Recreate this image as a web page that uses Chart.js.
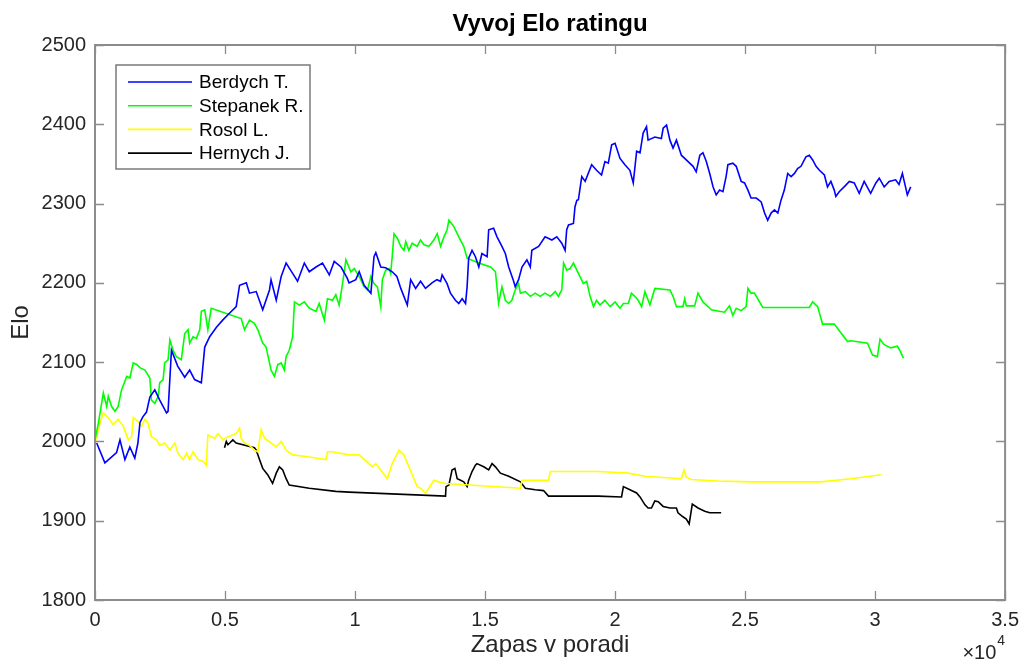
<!DOCTYPE html>
<html>
<head>
<meta charset="utf-8">
<title>Vyvoj Elo ratingu</title>
<script src="https://cdn.jsdelivr.net/npm/chart.js@4.4.1/dist/chart.umd.min.js"></script>
<style>
  html, body { margin: 0; padding: 0; background: #ffffff; }
  canvas { display: block; }
</style>
</head>
<body>
<canvas id="elo" width="1027" height="662"></canvas>
<script>
// Elo rating history of four Czech players, indexed by match number.
const berdychMatch = [
  65,380,830,960,1150,1340,1530,1650,1730,1840,1980,2110,2300,2490,2750,2810,2940,3180,3450,3640,
  3830,4090,4220,4410,4670,4910,5180,5430,5560,5820,5940,6200,6450,6710,6770,6970,7160,7350,7600,7790,
  8050,8240,8500,8750,9010,9200,9460,9700,
  9770,10030,10160,10350,10610,10730,10800,10990,11180,11430,11610,11760,12010,12140,12330,12520,12710,12960,13150,13290,
  13350,13540,13670,13860,13990,14120,14250,14310,14370,14500,14630,14760,14880,15080,15140,15330,15460,15650,15780,15910,
  16100,16160,16290,16420,16610,16740,16800,17060,17310,17570,17760,17950,18080,18140,18210,18400,18460,18530,
  18590,18720,18850,19100,19290,19480,19610,19740,19870,20000,20190,20380,20570,20700,20830,20960,21080,21210,21270,21530,
  21780,21850,21980,22110,22230,22360,22550,22810,23000,23120,23260,23380,23510,23640,23770,23890,24020,24150,24270,24340,
  24530,24660,24850,24980,25110,25230,25430,25620,25750,25870,26000,26130,26260,26380,26510,26640,26770,26900,27020,27150,
  27340,27470,27600,27730,27860,28050,28170,28300,28430,28490,28620,28810,29010,29200,29390,29580,29830,30030,30160,30350,
  30540,30790,30920,31050,31170,31240,31370
];
const berdychElo = [
  1998,1973,1986,2002,1977,1993,1979,1998,2024,2031,2037,2056,2065,2052,2036,2038,2115,2095,2081,2090,
  2078,2074,2119,2132,2144,2153,2162,2170,2197,2200,2187,2189,2166,2191,2204,2178,2208,2225,2212,2202,
  2225,2214,2220,2225,2210,2227,2220,2206,
  2200,2204,2214,2197,2187,2233,2238,2220,2219,2214,2208,2193,2172,2204,2193,2202,2193,2200,2204,2202,
  2210,2199,2187,2178,2174,2180,2174,2195,2231,2241,2233,2220,2237,2233,2267,2269,2258,2246,2237,2220,
  2202,2195,2204,2220,2229,2220,2241,2246,2258,2254,2258,2250,2241,2267,2273,2275,2296,2304,
  2305,2334,2328,2349,2342,2336,2353,2351,2374,2376,2357,2349,2342,2326,2366,2364,2389,2397,2380,2384,
  2382,2395,2399,2380,2370,2380,2361,2353,2347,2340,2361,2364,2353,2338,2321,2311,2317,2315,2334,2349,
  2351,2347,2328,2326,2317,2307,2307,2302,2288,2279,2288,2292,2288,2304,2317,2338,2334,2338,2344,2347,
  2359,2361,2355,2347,2342,2336,2321,2328,2317,2309,2315,2321,2328,2326,2313,2328,2313,2326,2332,2321,
  2328,2330,2324,2338,2321,2311,2321
];

const stepanekMatch = [
  0,130,320,450,510,640,770,890,1020,1220,1340,1470,1600,1730,1920,2110,2170,2300,2430,2490,
  2620,2680,2810,2880,3000,3130,3320,3450,3580,3640,3770,3900,4030,4090,4220,4340,4470,5620,5750,5940,
  6130,6260,6450,6580,6770,6900,7030,7160,7280,7350,7470,7600,7670,7860,8050,8240,8500,8620,8820,8940,
  9130,9260,9390,9520,9650,9840,9970,10160,10350,10480,10610,10730,10860,10990,11050,11180,11310,11370,11430,11500,
  11630,11760,11880,11950,12070,12200,12390,12520,12650,12840,13030,13160,13290,13420,13540,13610,13800,13990,14180,14310,
  14760,15210,15400,15520,15650,15780,15910,16030,16160,16290,16360,16550,16740,16930,17120,17310,17510,17700,17820,17950,
  18020,18140,18270,18400,18590,18780,18910,19040,19170,19290,19420,19610,19810,20000,20190,20320,20510,20630,20760,20890,
  21020,21150,21340,21530,22110,22230,22360,22610,22680,22740,23060,23190,23380,23640,23700,24210,24400,24530,24660,24850,
  25040,25110,25230,25360,25680,27470,27600,27790,27980,28430,28940,29070,29710,29900,30090,30190,30350,30600,30860,30980,
  31090
];
const stepanekElo = [
  2002,2023,2061,2044,2057,2044,2038,2044,2065,2082,2080,2099,2097,2093,2090,2080,2052,2048,2057,2074,
  2078,2099,2103,2128,2115,2107,2103,2136,2141,2124,2132,2130,2141,2164,2166,2141,2168,2155,2141,2153,
  2149,2141,2124,2119,2090,2082,2097,2099,2090,2107,2115,2132,2176,2172,2176,2168,2164,2174,2153,2180,
  2178,2185,2172,2199,2229,2214,2218,2208,2195,2191,2208,2199,2195,2170,2204,2216,2218,2212,2233,2262,
  2256,2246,2241,2252,2241,2250,2246,2254,2248,2246,2254,2262,2246,2258,2267,2279,2271,2258,2246,2231,
  2225,2220,2214,2174,2195,2178,2174,2178,2191,2199,2187,2189,2183,2187,2183,2187,2183,2189,2183,2191,
  2225,2216,2218,2225,2212,2199,2202,2183,2170,2178,2172,2178,2170,2176,2168,2174,2174,2187,2183,2178,
  2170,2189,2172,2193,2191,2183,2170,2170,2180,2171,2171,2187,2176,2168,2166,2163,2171,2159,2168,2165,
  2170,2193,2187,2187,2169,2169,2176,2170,2148,2148,2126,2127,2124,2109,2107,2129,2122,2118,2120,2113,
  2105
];

const rosolMatch = [
  0,190,320,510,700,890,1090,1280,1410,1470,1660,1790,1920,2040,2170,2370,2490,2680,2880,3070,
  3190,3390,3520,3640,3770,3960,4150,4280,4340,4600,4730,4920,5110,5300,5430,5560,5620,5750,5940,6130,
  6260,6390,6520,6770,6970,7160,7350,7600,8120,8880,8940,9130,9770,10160,10670,10800,11240,11430,11630,11690,
  11880,12070,12390,12520,12710,12840,13030,13220,13480,16360,16420,17440,17510,19360,20510,21150,22550,22650,22740,22930,
  23960,25230,27920,29070,30220
];
const rosolElo = [
  1998,2023,2036,2030,2021,2028,2019,2002,2006,2030,2025,2019,2028,2023,2006,2002,1995,1998,1989,1998,
  1985,1977,1985,1977,1987,1977,1975,1970,2008,2004,2010,2002,2006,2008,2010,2017,2004,1998,1995,1989,
  1987,2015,2004,1998,1993,2000,1989,1983,1981,1977,1987,1987,1983,1983,1968,1972,1953,1972,1985,1989,
  1983,1968,1943,1941,1935,1941,1951,1949,1947,1941,1951,1951,1962,1962,1960,1956,1953,1964,1955,1952,
  1950,1949,1949,1953,1958
];

const hernychMatch = [
  4980,5050,5110,5180,5300,5430,6130,6200,6330,6450,6640,6830,6970,7090,7220,7350,7470,8240,9260,9770,
  13480,13500,13610,13730,13840,13930,14060,14180,14310,14370,14500,14630,14690,14950,15140,15270,15400,15590,15910,16360,
  16550,16930,17250,17440,19360,20250,20320,20570,20830,20960,21150,21270,21400,21530,21660,21850,22110,22360,22420,22610,
  22740,22850,22970,23190,23450,23640,24080
];
const hernychElo = [
  1992,2000,1996,1998,2002,1998,1992,1989,1977,1966,1958,1947,1960,1968,1964,1953,1945,1941,1937,1936,
  1931,1943,1945,1964,1966,1953,1951,1949,1943,1951,1962,1970,1972,1968,1964,1972,1968,1960,1956,1949,
  1941,1939,1938,1931,1931,1930,1943,1939,1935,1930,1920,1916,1916,1925,1924,1918,1916,1916,1910,1905,
  1902,1896,1921,1916,1912,1910,1910
];

const playerNames = ['Berdych T.', 'Stepanek R.', 'Rosol L.', 'Hernych J.'];
const playerColors = ['#0000ff', '#00ff00', '#ffff00', '#000000'];
const xTickValues = [0, 5000, 10000, 15000, 20000, 25000, 30000, 35000];
const yTickValues = [1800, 1900, 2000, 2100, 2200, 2300, 2400, 2500];

const series = [
  [berdychMatch, berdychElo],
  [stepanekMatch, stepanekElo],
  [rosolMatch, rosolElo],
  [hernychMatch, hernychElo]
];

const datasets = series.map(([xs, ys], i) => ({
  label: playerNames[i],
  data: xs.map((m, k) => ({ x: m, y: ys[k] })),
  borderColor: playerColors[i],
  borderWidth: 1.6,
  pointRadius: 0,
  tension: 0,
  fill: false
}));

const FONT = "'Liberation Sans', Arial, Helvetica, sans-serif";
const AXIS_GRAY = '#8c8c8c';
const LABEL_GRAY = '#262626';

// Box around the axes, inward tick marks, title, exponent note and legend.
const axesDecor = {
  id: 'axesDecor',
  afterDraw(chart) {
    const { ctx, chartArea: a, scales: { x, y } } = chart;
    ctx.save();

    ctx.strokeStyle = AXIS_GRAY;
    ctx.lineWidth = 1.3;
    const tick = 9;
    ctx.beginPath();
    xTickValues.forEach(v => {
      const px = Math.round(x.getPixelForValue(v)) + 0.5;
      ctx.moveTo(px, a.bottom); ctx.lineTo(px, a.bottom - tick);
      ctx.moveTo(px, a.top); ctx.lineTo(px, a.top + tick);
    });
    yTickValues.forEach(v => {
      const py = Math.round(y.getPixelForValue(v)) + 0.5;
      ctx.moveTo(a.left, py); ctx.lineTo(a.left + tick, py);
      ctx.moveTo(a.right, py); ctx.lineTo(a.right - tick, py);
    });
    ctx.stroke();

    ctx.lineWidth = 2;
    ctx.strokeRect(a.left, a.top, a.right - a.left, a.bottom - a.top);

    // title
    ctx.fillStyle = '#000000';
    ctx.font = 'bold 24px ' + FONT;
    ctx.textAlign = 'center';
    ctx.textBaseline = 'alphabetic';
    ctx.fillText('Vyvoj Elo ratingu', (a.left + a.right) / 2, 31);

    // x10^4 multiplier under the right end of the x axis
    ctx.fillStyle = LABEL_GRAY;
    ctx.textAlign = 'right';
    ctx.font = '14px ' + FONT;
    ctx.fillText('4', a.right, 645);
    const w4 = ctx.measureText('4').width;
    ctx.font = '20px ' + FONT;
    ctx.fillText('\u00d710', a.right - w4 - 1, 659);

    // legend
    const lx = 116, ly = 65, lw = 194, lh = 104;
    ctx.fillStyle = '#ffffff';
    ctx.fillRect(lx, ly, lw, lh);
    ctx.strokeStyle = '#7a7a7a';
    ctx.lineWidth = 1.5;
    ctx.strokeRect(lx, ly, lw, lh);
    ctx.font = '19px ' + FONT;
    ctx.textAlign = 'left';
    ctx.textBaseline = 'middle';
    chart.data.datasets.forEach((ds, i) => {
      const ry = 82 + i * 23.7;
      ctx.strokeStyle = ds.borderColor;
      ctx.lineWidth = 1.6;
      ctx.beginPath();
      ctx.moveTo(128, ry); ctx.lineTo(192, ry);
      ctx.stroke();
      ctx.fillStyle = '#000000';
      ctx.fillText(ds.label, 199, ry + 1);
    });

    ctx.restore();
  }
};

new Chart(document.getElementById('elo'), {
  type: 'line',
  data: { datasets },
  options: {
    responsive: false,
    animation: false,
    devicePixelRatio: 1,
    layout: { padding: { top: 45, right: 17, left: 0, bottom: 0 } },
    plugins: {
      legend: { display: false },
      title: { display: false },
      tooltip: { enabled: false }
    },
    scales: {
      x: {
        type: 'linear',
        min: 0,
        max: 35000,
        afterBuildTicks: s => { s.ticks = xTickValues.map(v => ({ value: v })); },
        afterFit: s => { s.height = 62; },
        grid: { display: false, drawTicks: false },
        border: { display: false },
        ticks: {
          padding: 8,
          color: LABEL_GRAY,
          font: { family: FONT, size: 20 },
          maxRotation: 0,
          callback: v => String(v / 10000)
        },
        title: {
          display: true,
          text: 'Zapas v poradi',
          color: LABEL_GRAY,
          font: { family: FONT, size: 24 },
          padding: { top: 0, bottom: 2 }
        }
      },
      y: {
        type: 'linear',
        min: 1800,
        max: 2500,
        afterBuildTicks: s => { s.ticks = yTickValues.map(v => ({ value: v })); },
        afterFit: s => { s.width = 95; },
        grid: { display: false, drawTicks: false },
        border: { display: false },
        ticks: {
          padding: 9,
          color: LABEL_GRAY,
          font: { family: FONT, size: 20 },
          callback: v => String(v)
        },
        title: {
          display: true,
          text: 'Elo',
          color: LABEL_GRAY,
          font: { family: FONT, size: 24 },
          padding: { top: 7, bottom: 0 }
        }
      }
    }
  },
  plugins: [axesDecor]
});
</script>
</body>
</html>
